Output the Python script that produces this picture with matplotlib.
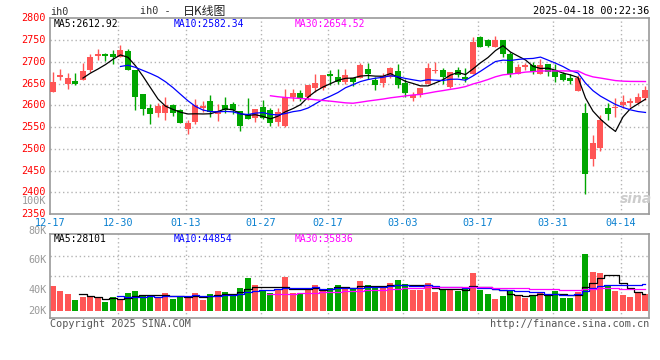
import numpy as np
import pandas as pd
import matplotlib
matplotlib.use('Agg')
import matplotlib.pyplot as plt

# daily candles, 2024-12-17 .. 2025-04-17 (80 trading days)
opens = [2630, 2664, 2650, 2655, 2659, 2680, 2713, 2717, 2717, 2712,
         2725, 2681, 2626, 2594, 2583, 2583, 2600, 2589, 2546, 2562,
         2594, 2609, 2581, 2600, 2603, 2586, 2581, 2570, 2597, 2589,
         2562, 2552, 2619, 2628, 2619, 2639, 2639, 2673, 2666, 2654,
         2663, 2662, 2684, 2658, 2651, 2666, 2678, 2651, 2617, 2623,
         2649, 2678, 2681, 2642, 2681, 2665, 2672, 2756, 2749, 2733,
         2749, 2717, 2673, 2688, 2692, 2673, 2696, 2680, 2673, 2663,
         2633, 2583, 2476, 2501, 2593, 2593, 2600, 2606, 2606, 2616]
highs = [2677, 2683, 2674, 2674, 2697, 2719, 2730, 2721, 2726, 2738,
         2730, 2681, 2626, 2602, 2605, 2618, 2604, 2592, 2566, 2615,
         2609, 2623, 2604, 2618, 2608, 2587, 2617, 2592, 2612, 2594,
         2593, 2638, 2638, 2635, 2646, 2672, 2670, 2681, 2683, 2683,
         2663, 2698, 2697, 2666, 2674, 2687, 2694, 2661, 2630, 2640,
         2697, 2699, 2685, 2676, 2687, 2685, 2758, 2760, 2752, 2760,
         2749, 2722, 2696, 2697, 2699, 2707, 2696, 2696, 2677, 2673,
         2669, 2606, 2531, 2577, 2606, 2616, 2623, 2616, 2629, 2645]
lows = [2630, 2658, 2637, 2646, 2658, 2677, 2704, 2701, 2695, 2712,
        2680, 2589, 2578, 2557, 2572, 2566, 2575, 2559, 2534, 2556,
        2585, 2573, 2563, 2582, 2581, 2541, 2568, 2562, 2568, 2552,
        2552, 2549, 2610, 2610, 2613, 2631, 2635, 2646, 2650, 2650,
        2645, 2662, 2661, 2636, 2643, 2663, 2640, 2620, 2609, 2620,
        2649, 2674, 2649, 2640, 2665, 2653, 2672, 2735, 2733, 2733,
        2711, 2664, 2673, 2682, 2673, 2673, 2667, 2654, 2656, 2650,
        2633, 2397, 2461, 2495, 2567, 2574, 2594, 2597, 2604, 2613]
closes = [2653, 2670, 2662, 2650, 2678, 2710, 2717, 2713, 2711, 2728,
          2682, 2620, 2592, 2580, 2598, 2600, 2582, 2560, 2560, 2600,
          2598, 2585, 2586, 2590, 2588, 2553, 2568, 2592, 2571, 2560,
          2584, 2619, 2628, 2616, 2646, 2651, 2669, 2667, 2654, 2669,
          2654, 2692, 2673, 2647, 2668, 2685, 2647, 2628, 2623, 2640,
          2685, 2681, 2665, 2676, 2670, 2661, 2746, 2735, 2737, 2750,
          2717, 2673, 2689, 2692, 2677, 2692, 2677, 2665, 2659, 2656,
          2663, 2441, 2514, 2566, 2581, 2597, 2608, 2610, 2620, 2635]
# volume, thousand lots
volumes = [41.3, 33.0, 28.0, 18.2, 23.6, 23.6, 21.0, 14.9, 23.1, 19.3,
           29.7, 33.0, 26.4, 24.8, 22.0, 29.7, 19.8, 24.8, 22.0, 29.7,
           18.2, 28.0, 33.0, 31.4, 28.0, 38.0, 55.0, 42.9, 34.7, 29.7,
           34.7, 56.1, 29.7, 28.0, 34.7, 42.9, 36.3, 38.4, 42.9, 37.5,
           37.5, 49.5, 42.9, 37.5, 37.5, 46.2, 51.2, 44.6, 34.7, 34.7,
           46.2, 31.4, 36.3, 34.7, 33.0, 36.3, 62.7, 34.7, 28.0, 19.8,
           25.2, 34.7, 26.4, 21.5, 26.4, 31.4, 26.4, 33.0, 21.5, 21.5,
           31.4, 94.0, 64.4, 62.7, 42.9, 33.0, 26.4, 23.1, 31.4, 28.0]

tick_idx = [0, 9, 18, 28, 37, 47, 57, 67, 76]
tick_labels = ['12-17', '12-30', '01-13', '01-27', '02-17', '03-03', '03-17', '03-31', '04-14']
price_ticks = [2800, 2750, 2700, 2650, 2600, 2550, 2500, 2450, 2400, 2350]
vol_labels = ['100K', '80K', '60K', '40K', '20K']
vol_label_y = [201, 231, 260, 290, 311]

RED = '#ff5555'
GREEN = '#00a600'
GRID = '#b4b4b4'
W, H = 660, 360
MONO = 'DejaVu Sans Mono'

fig = plt.figure(figsize=(6.6, 3.6), dpi=100)

def box(l, t, r, b):
    return [l / W, 1 - b / H, (r - l) / W, (b - t) / H]

def ptext(x, y, s, **kw):
    kw.setdefault('family', MONO)
    kw.setdefault('fontsize', 7)
    kw.setdefault('va', 'center')
    fig.text(x / W, 1 - y / H, s, **kw)

x = np.arange(len(closes))
df = pd.DataFrame({'o': opens, 'h': highs, 'l': lows, 'c': closes, 'v': volumes})
up = df.c >= df.o
cols = np.where(up, RED, GREEN)

# ---- price panel
ax = fig.add_axes(box(50, 18.3, 649, 214))
ax.set_xlim(-0.4, 79.47)
ax.set_ylim(2350, 2800)
for p in price_ticks[1:-1]:
    ax.axhline(p, color=GRID, lw=1, ls=(0, (1, 2)), zorder=0)
for t in tick_idx[1:]:
    ax.axvline(t - 0.33, color=GRID, lw=1, ls=(0, (1, 2)), zorder=0)

ax.vlines(x, df.l, df.h, colors=cols, lw=1, zorder=2)
body = np.maximum((df.c - df.o).abs(), 1.5)
ax.bar(x, body, bottom=np.minimum(df.o, df.c), width=0.8, color=cols, zorder=3)

ma5 = df.c.rolling(5).mean()
ma10 = df.c.rolling(10).mean()
ma30 = df.c.rolling(30).mean()
ax.plot(x, ma5, color='black', lw=0.9, zorder=4)
ax.plot(x, ma10, color='#0000ff', lw=0.9, zorder=4)
ax.plot(x, ma30, color='#ff00ff', lw=1.0, zorder=4)

ax.set_xticks([])
ax.set_yticks([])
for s in ax.spines.values():
    s.set_color('#999999')
    s.set_linewidth(1.2)

for p in price_ticks:
    ax.text(-0.007, p, str(p), transform=ax.get_yaxis_transform(), ha='right',
            va='center', color='#ff0000', family=MONO, fontsize=7.3)
for t, lbl in zip(tick_idx, tick_labels):
    ax.text(t - 0.33, -0.018, lbl, transform=ax.get_xaxis_transform(), ha='center',
            va='top', color='#0a80d0', family=MONO, fontsize=7.3)

ptext(54, 24, 'MA5:2612.92', color='black')
ptext(174, 24, 'MA10:2582.34', color='#0000ff')
ptext(295, 24, 'MA30:2654.52', color='#ff00ff')

# ---- volume panel
vax = fig.add_axes(box(50, 234, 649, 318))
vax.set_xlim(-0.4, 79.47)
k_per_px = 1.65
vax.set_ylim(-(318 - 311) * k_per_px, (311 - 234) * k_per_px)
for f in [0.5, 0.738]:
    vax.plot([0, 1], [f, f], transform=vax.transAxes, color=GRID, lw=1, ls=(0, (1, 2)), zorder=0)
for t in tick_idx[1:]:
    vax.axvline(t - 0.33, color=GRID, lw=1, ls=(0, (1, 2)), zorder=0)
vax.bar(x, df.v, width=0.8, color=cols, zorder=2)
vax.plot(x, df.v.rolling(5).mean(), color='black', lw=0.9, drawstyle='steps-mid', zorder=3)
vax.plot(x, df.v.rolling(10).mean(), color='#0000ff', lw=0.9, drawstyle='steps-mid', zorder=3)
vax.plot(x, df.v.rolling(30).mean(), color='#ff00ff', lw=0.9, drawstyle='steps-mid', zorder=3)
vax.set_xticks([])
vax.set_yticks([])
for s in vax.spines.values():
    s.set_color('#999999')
    s.set_linewidth(1.2)

for lbl, yy in zip(vol_labels, vol_label_y):
    ptext(46.5, yy, lbl, ha='right', color='#999999', fontsize=7.3)

ptext(54, 239, 'MA5:28101', color='black')
ptext(174, 239, 'MA10:44854', color='#0000ff')
ptext(295, 239, 'MA30:35836', color='#ff00ff')

# ---- header / footer
ptext(50, 12, 'ih0', color='#333333', fontsize=7.3)
ptext(140, 11, 'ih0 -', color='#333333', fontsize=7.3)
ptext(183, 11, '日K线图', color='#222222', fontsize=8.6, family=['Noto Sans CJK SC', 'DejaVu Sans'])
ptext(649, 11, '2025-04-18 00:22:36', ha='right', color='black', fontsize=7.3)
ptext(50, 324, 'Copyright 2025 SINA.COM', color='#555555', fontsize=7.3)
ptext(649, 324, 'http://finance.sina.com.cn', ha='right', color='#555555', fontsize=7.3)
ptext(636, 199, 'sina', ha='center', color='#cccccc', fontsize=10, style='italic',
      weight='bold', family='DejaVu Sans')

fig.savefig('out.png', dpi=100)
